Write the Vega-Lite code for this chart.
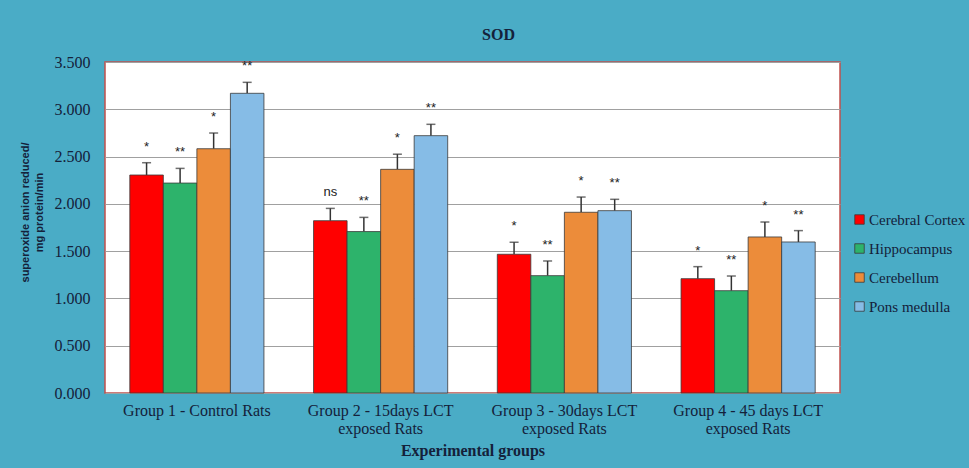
{
  "$schema": "https://vega.github.io/schema/vega-lite/v6.json",
  "autosize": {"type": "none"},
  "width": 735,
  "height": 331,
  "padding": {"left": 105, "top": 62, "right": 129, "bottom": 75},
  "background": "#4aacc6",
  "title": {
    "text": "SOD",
    "font": "Liberation Serif",
    "fontSize": 16,
    "fontWeight": "bold",
    "color": "#14213a",
    "dx": 26,
    "offset": 11
  },
  "data": {
    "values": [
      {"group": "Group 1 - Control Rats", "region": "Cerebral Cortex", "value": 2.305, "sd": 0.13, "sig": "*"},
      {"group": "Group 1 - Control Rats", "region": "Hippocampus", "value": 2.22, "sd": 0.155, "sig": "**"},
      {"group": "Group 1 - Control Rats", "region": "Cerebellum", "value": 2.583, "sd": 0.166, "sig": "*"},
      {"group": "Group 1 - Control Rats", "region": "Pons medulla", "value": 3.169, "sd": 0.116, "sig": "**"},
      {"group": "Group 2 - 15days LCT exposed Rats", "region": "Cerebral Cortex", "value": 1.822, "sd": 0.13, "sig": "ns"},
      {"group": "Group 2 - 15days LCT exposed Rats", "region": "Hippocampus", "value": 1.707, "sd": 0.15, "sig": "**"},
      {"group": "Group 2 - 15days LCT exposed Rats", "region": "Cerebellum", "value": 2.365, "sd": 0.16, "sig": "*"},
      {"group": "Group 2 - 15days LCT exposed Rats", "region": "Pons medulla", "value": 2.721, "sd": 0.12, "sig": "**"},
      {"group": "Group 3 - 30days LCT exposed Rats", "region": "Cerebral Cortex", "value": 1.467, "sd": 0.127, "sig": "*"},
      {"group": "Group 3 - 30days LCT exposed Rats", "region": "Hippocampus", "value": 1.241, "sd": 0.155, "sig": "**"},
      {"group": "Group 3 - 30days LCT exposed Rats", "region": "Cerebellum", "value": 1.911, "sd": 0.161, "sig": "*"},
      {"group": "Group 3 - 30days LCT exposed Rats", "region": "Pons medulla", "value": 1.928, "sd": 0.12, "sig": "**"},
      {"group": "Group 4 - 45 days LCT exposed Rats", "region": "Cerebral Cortex", "value": 1.209, "sd": 0.127, "sig": "*"},
      {"group": "Group 4 - 45 days LCT exposed Rats", "region": "Hippocampus", "value": 1.082, "sd": 0.155, "sig": "**"},
      {"group": "Group 4 - 45 days LCT exposed Rats", "region": "Cerebellum", "value": 1.65, "sd": 0.158, "sig": "*"},
      {"group": "Group 4 - 45 days LCT exposed Rats", "region": "Pons medulla", "value": 1.597, "sd": 0.12, "sig": "**"}
    ]
  },
  "transform": [{"calculate": "datum.value + datum.sd", "as": "upper"}],
  "encoding": {
    "x": {
      "field": "group",
      "type": "nominal",
      "sort": null,
      "scale": {"paddingInner": 0.27, "paddingOuter": 0.135},
      "axis": {
        "title": "Experimental groups",
        "labelAngle": 0,
        "ticks": false,
        "domain": false,
        "labelPadding": 9,
        "labelLineHeight": 18,
        "labelFont": "Liberation Serif",
        "labelFontSize": 16,
        "labelColor": "#14213a",
        "labelExpr": "indexof(datum.label, ' exposed') > 0 ? [substring(datum.label, 0, indexof(datum.label, ' exposed')), 'exposed Rats'] : datum.label",
        "titleFont": "Liberation Serif",
        "titleFontSize": 16,
        "titleFontWeight": "bold",
        "titleColor": "#14213a",
        "titlePadding": 6
      }
    },
    "xOffset": {
      "field": "region",
      "type": "nominal",
      "sort": ["Cerebral Cortex", "Hippocampus", "Cerebellum", "Pons medulla"],
      "scale": {"paddingInner": 0, "paddingOuter": 0}
    }
  },
  "layer": [
    {
      "mark": {"type": "rule", "color": "#333333", "strokeWidth": 1.5},
      "encoding": {
        "y": {"field": "value", "type": "quantitative"},
        "y2": {"field": "upper"}
      }
    },
    {
      "mark": {"type": "tick", "color": "#333333", "size": 9, "thickness": 1.5},
      "encoding": {
        "y": {"field": "upper", "type": "quantitative"}
      }
    },
    {
      "mark": {"type": "bar", "stroke": "#3a3a3a", "strokeWidth": 0.8},
      "encoding": {
        "y": {
          "field": "value",
          "type": "quantitative",
          "scale": {"domain": [0, 3.5]},
          "axis": {
            "title": ["superoxide anion reduced/", "mg protein/min"],
            "values": [0, 0.5, 1, 1.5, 2, 2.5, 3, 3.5],
            "format": ".3f",
            "ticks": false,
            "domain": false,
            "labelPadding": 15,
            "labelFont": "Liberation Serif",
            "labelFontSize": 16,
            "labelColor": "#14213a",
            "gridColor": "#a0a0a0",
            "gridWidth": 1,
            "titleFont": "Liberation Sans",
            "titleFontSize": 11,
            "titleFontWeight": "bold",
            "titleColor": "#14213a",
            "titleLineHeight": 14,
            "titlePadding": 10,
            "titleY": 150
          }
        },
        "color": {
          "field": "region",
          "type": "nominal",
          "sort": ["Cerebral Cortex", "Hippocampus", "Cerebellum", "Pons medulla"],
          "scale": {
            "domain": ["Cerebral Cortex", "Hippocampus", "Cerebellum", "Pons medulla"],
            "range": ["#ff0000", "#2db36b", "#ec8c3a", "#86bce6"]
          },
          "legend": {
            "title": null,
            "orient": "none",
            "legendX": 747,
            "legendY": 150,
            "padding": 0,
            "symbolType": "square",
            "symbolSize": 90,
            "symbolStrokeColor": "#3a3a3a",
            "symbolStrokeWidth": 0.8,
            "labelOffset": 2,
            "rowPadding": 13,
            "labelFont": "Liberation Serif",
            "labelFontSize": 15,
            "labelColor": "#14213a",
            "labelLimit": 200
          }
        }
      }
    },
    {
      "mark": {"type": "text", "font": "Liberation Sans", "fontSize": 13, "color": "#222222", "baseline": "alphabetic", "dy": -12},
      "encoding": {
        "y": {"field": "upper", "type": "quantitative"},
        "text": {"field": "sig"}
      }
    }
  ],
  "config": {
    "view": {"stroke": "#c0504d", "strokeWidth": 1.5, "fill": "white"}
  }
}
